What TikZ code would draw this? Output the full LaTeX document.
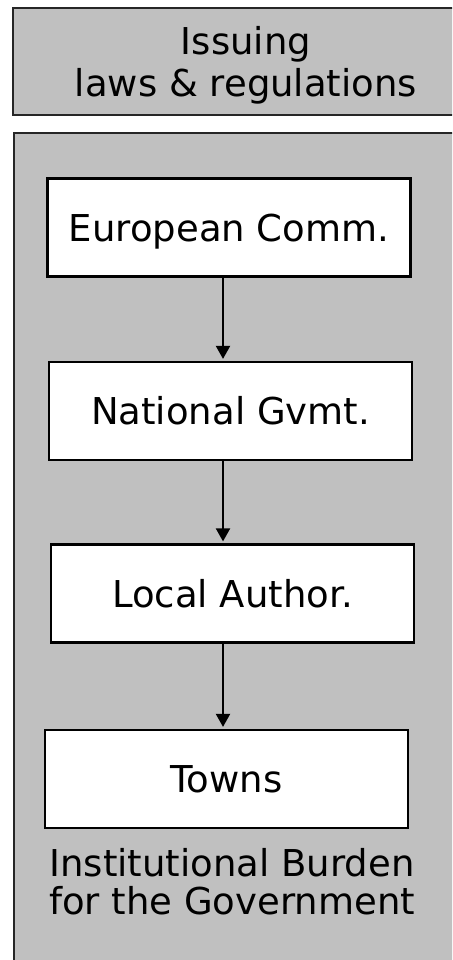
\documentclass[tikz,border=0pt]{standalone}
\usepackage{fontspec}
\setmainfont{DejaVu Sans}
\usetikzlibrary{arrows.meta}
\definecolor{panelgray}{HTML}{C0C0C0}
\begin{document}
\begin{tikzpicture}[x=1pt,y=-1pt,
  panel/.style={fill=panelgray, draw=black!85, line width=2pt},
  lbl/.style={inner sep=0pt, align=center},
  org/.style={draw=black, line width=2.2pt, fill=white, minimum width=363pt,
    minimum height=98pt, inner sep=0pt, text height=27pt, text depth=0pt,
    font=\fontsize{37}{40}\selectfont},
  arr/.style={line width=2pt, shorten >=2pt, -{Triangle[width=14pt,length=13pt]}}]
\useasboundingbox (0,0) rectangle (452,960);
\clip (0,0) rectangle (452,960);
\fill[white] (0,0) rectangle (452,960);
\draw[panel] (13,8) rectangle (479,115);
\draw[panel] (14,133) rectangle (470,990);
\node[lbl, font=\fontsize{37}{42}\selectfont] (issue) at (246,65.5) {Issuing\\laws \& regulations};
\node[org] (ec) at (229,227.5) {European Comm.};
\node[org] (ng) at (230.5,411) {National Gvmt.};
\node[org] (la) at (232.5,593.5) {Local Author.};
\node[org] (tw) at (226.5,779) {Towns};
\coordinate (ax) at (223,0);
\draw[arr] (ec.south -| ax) -- (ng.north -| ax);
\draw[arr] (ng.south -| ax) -- (la.north -| ax);
\draw[arr] (la.south -| ax) -- (tw.north -| ax);
\node[lbl, font=\fontsize{37}{38}\selectfont] (burden) at (232,882) {Institutional Burden\\for the Government};
\end{tikzpicture}
\end{document}
